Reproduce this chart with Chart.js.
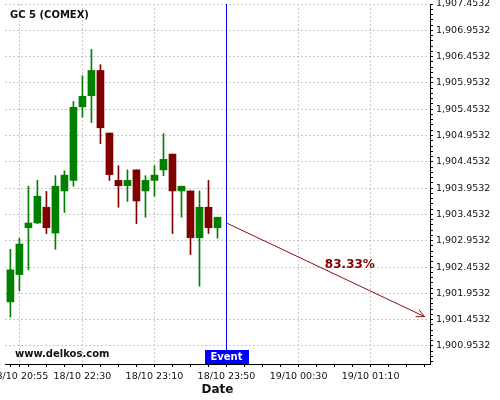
<!DOCTYPE html>
<html>
<head>
<meta charset="utf-8">
<script src="https://cdn.jsdelivr.net/npm/chart.js@4/dist/chart.umd.min.js"></script>
<style>
  html, body { margin: 0; padding: 0; background: #fff; }
  #wrap { width: 500px; height: 400px; }
</style>
</head>
<body>
<div id="wrap"><canvas id="chart" width="500" height="400"></canvas></div>
<script>
// 5 minute candles, GC 5 (COMEX)
const opens  = [1901.79, 1902.31, 1903.20, 1903.29, 1903.59, 1903.10, 1903.90, 1904.10, 1905.50, 1905.71, 1906.19, 1905.00, 1904.10, 1904.00, 1904.30, 1903.90, 1904.10, 1904.30, 1904.60, 1903.90, 1903.90, 1903.01, 1903.59, 1903.20];
const highs  = [1902.79, 1903.00, 1903.99, 1904.10, 1903.89, 1904.19, 1904.28, 1905.60, 1906.09, 1906.59, 1906.30, 1905.00, 1904.38, 1904.30, 1904.30, 1904.19, 1904.38, 1904.99, 1904.60, 1903.99, 1903.90, 1903.90, 1904.10, 1903.40];
const lows   = [1901.50, 1902.00, 1902.40, 1903.28, 1903.09, 1902.79, 1903.49, 1903.99, 1905.30, 1905.20, 1904.80, 1904.10, 1903.59, 1903.70, 1903.28, 1903.40, 1903.80, 1904.19, 1903.09, 1903.40, 1902.69, 1902.09, 1903.09, 1903.00];
const closes = [1902.40, 1902.89, 1903.29, 1903.80, 1903.20, 1903.99, 1904.20, 1905.49, 1905.70, 1906.19, 1905.10, 1904.21, 1904.00, 1904.10, 1903.71, 1904.10, 1904.20, 1904.50, 1903.90, 1903.99, 1903.01, 1903.59, 1903.20, 1903.40];

// x tick labels (candle slot index -> label)
const tickIdx    = [1, 8, 16, 24, 32, 40];
const tickLabels = ['18/10 20:55', '18/10 22:30', '18/10 23:10', '18/10 23:50', '19/10 00:30', '19/10 01:10'];

// event + forecast arrow
const eventIdx = 24;
const forecastIdx = [24, 46];
const forecastVals = [1903.29, 1901.51];
const forecastText = '83.33%';

const yMin = 1900.61, yMax = 1907.4532;
const GREEN = '#008000', RED = '#800000';

const up = opens.map((o, i) => closes[i] >= o);
const bodies = opens.map((o, i) => ({ x: i, y: [o, closes[i]] }));
const wicks = opens.map((o, i) => ({ x: i, y: [lows[i], highs[i]] }));
const candleColors = up.map(u => u ? GREEN : RED);

function fmtPrice(v) {
  const s = v.toFixed(4);
  return s.slice(0, 1) + ',' + s.slice(1);
}

const overlayPlugin = {
  id: 'overlay',
  afterDatasetsDraw(chart) {
    const { ctx, scales } = chart;
    ctx.save();

    // arrow head at the end of the forecast line
    const meta = chart.getDatasetMeta(2);
    const p0 = meta.data[0], p1 = meta.data[1];
    const ang = Math.atan2(p1.y - p0.y, p1.x - p0.x);
    const len = 9, spread = 0.45;
    ctx.strokeStyle = '#8b1010';
    ctx.lineWidth = 1;
    ctx.beginPath();
    ctx.moveTo(p1.x - len * Math.cos(ang - spread), p1.y - len * Math.sin(ang - spread));
    ctx.lineTo(p1.x, p1.y);
    ctx.lineTo(p1.x - len * Math.cos(ang + spread), p1.y - len * Math.sin(ang + spread));
    ctx.stroke();

    // forecast percentage
    ctx.fillStyle = '#800000';
    ctx.font = 'bold 12px "DejaVu Sans"';
    ctx.textAlign = 'center';
    ctx.textBaseline = 'middle';
    ctx.fillText(forecastText, scales.x.getPixelForValue(37.7), scales.y.getPixelForValue(1902.50));

    // title and watermark
    ctx.fillStyle = '#111';
    ctx.font = 'bold 10px "DejaVu Sans"';
    ctx.textAlign = 'left';
    ctx.fillText('GC 5 (COMEX)', 10, 15);
    ctx.fillText('www.delkos.com', 15, 354);

    // event label box
    const ex = scales.x.getPixelForValue(eventIdx);
    const bottom = chart.chartArea.bottom;
    ctx.fillStyle = '#0000ff';
    ctx.fillRect(Math.round(ex) - 22, bottom - 14, 44, 14);
    ctx.fillStyle = '#fff';
    ctx.textAlign = 'center';
    ctx.fillText('Event', ex, bottom - 6.5);
    ctx.restore();
  }
};

new Chart(document.getElementById('chart').getContext('2d'), {
  type: 'bar',
  data: {
    datasets: [
      {
        data: bodies,
        backgroundColor: candleColors,
        barThickness: 7,
        grouped: false,
        borderWidth: 0,
        order: 1
      },
      {
        data: wicks,
        backgroundColor: candleColors,
        barThickness: 1,
        grouped: false,
        borderWidth: 0,
        order: 2
      },
      {
        type: 'line',
        data: forecastIdx.map((x, i) => ({ x: x, y: forecastVals[i] })),
        borderColor: '#8b1010',
        borderWidth: 1,
        pointRadius: 0,
        fill: false,
        order: 0
      },
      {
        type: 'line',
        data: [{ x: eventIdx, y: yMin }, { x: eventIdx, y: yMax }],
        borderColor: '#0000ff',
        borderWidth: 1,
        pointRadius: 0,
        fill: false,
        order: 0
      }
    ]
  },
  options: {
    responsive: false,
    animation: false,
    events: [],
    layout: { padding: { left: 5, top: 4, right: 0, bottom: 0 } },
    plugins: { legend: { display: false }, tooltip: { enabled: false } },
    scales: {
      x: {
        type: 'linear',
        min: -0.6,
        max: 46.6,
        offset: false,
        afterBuildTicks(scale) {
          const vals = [1];
          for (let i = 0; i <= 46; i += 2) vals.push(i);
          vals.sort((a, b) => a - b);
          scale.ticks = vals.map(v => ({ value: v }));
        },
        afterFit(scale) {
          scale.height = 36;
          scale.paddingLeft = 0;
          scale.paddingRight = 0;
        },
        ticks: {
          autoSkip: false,
          maxRotation: 0,
          padding: 4,
          color: '#111',
          font: { family: 'DejaVu Sans', size: 9.5 },
          callback(v) {
            const k = tickIdx.indexOf(v);
            return k >= 0 ? tickLabels[k] : '';
          }
        },
        grid: {
          offset: false,
          color: c => (c.tick && tickIdx.includes(c.tick.value)) ? '#c8c8c8' : 'rgba(0,0,0,0)',
          tickColor: '#000',
          tickLength: 3,
          lineWidth: 1
        },
        border: { display: true, color: '#000', width: 1, dash: [2, 2] },
        title: {
          display: true,
          text: 'Date',
          color: '#111',
          font: { family: 'DejaVu Sans', size: 12, weight: 'bold' },
          padding: { top: 0, bottom: 3 }
        }
      },
      y: {
        position: 'right',
        min: yMin,
        max: yMax,
        afterBuildTicks(scale) {
          const vals = [];
          for (let k = 0; k <= 68; k++) vals.push((19006532 + k * 1000) / 10000);
          scale.ticks = vals.map(v => ({ value: v }));
        },
        afterFit(scale) {
          scale.width = 70;
          scale.paddingTop = 0;
          scale.paddingBottom = 0;
        },
        ticks: {
          autoSkip: false,
          padding: 3,
          color: '#111',
          font: { family: 'DejaVu Sans', size: 9.5 },
          callback(v) {
            const k = Math.round((v - 1900.9532) * 10);
            return (k % 5 === 0) ? fmtPrice(v) : '';
          }
        },
        grid: {
          color: c => {
            if (!c.tick) return 'rgba(0,0,0,0)';
            const k = Math.round((c.tick.value - 1900.9532) * 10);
            return (k % 5 === 0) ? '#c8c8c8' : 'rgba(0,0,0,0)';
          },
          tickColor: '#000',
          tickLength: 3,
          lineWidth: 1
        },
        border: { display: true, color: '#000', width: 1, dash: [2, 2] }
      }
    }
  },
  plugins: [overlayPlugin]
});
</script>
</body>
</html>
